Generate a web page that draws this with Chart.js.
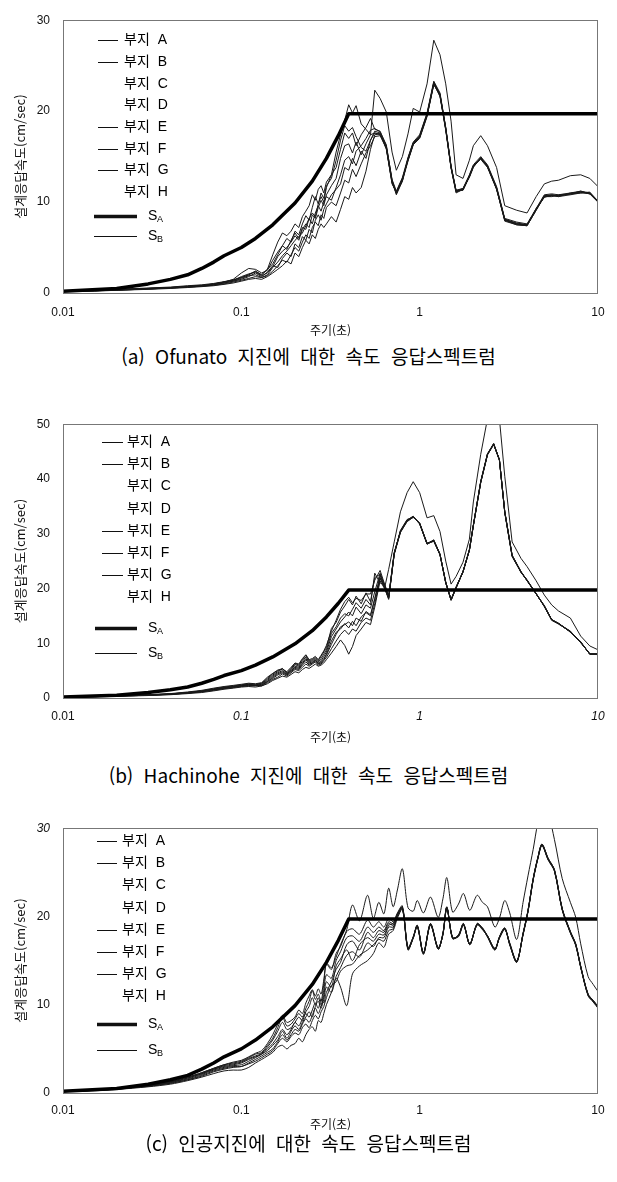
<!DOCTYPE html>
<html lang="ko">
<head>
<meta charset="utf-8">
<title>속도 응답스펙트럼</title>
<script src="https://cdn.jsdelivr.net/npm/chart.js@4.4.1/dist/chart.umd.min.js"></script>
<style>
  html, body { margin: 0; padding: 0; background: #fff; }
  body { width: 617px; height: 1182px; position: relative; overflow: hidden; }
  canvas { position: absolute; left: 0; }
  .caption {
    position: absolute; left: 0; width: 617px; height: 24px; line-height: 24px;
    text-align: center; color: #000; white-space: nowrap;
    font-family: "Noto Sans CJK KR", sans-serif; font-size: 19px; word-spacing: 5px;
  }
</style>
</head>
<body>
<canvas id="ofunato"></canvas>
<div class="caption" style="top: 344px;">(a) Ofunato 지진에 대한 속도 응답스펙트럼</div>
<canvas id="hachinohe"></canvas>
<div class="caption" style="top: 763px;">(b) Hachinohe 지진에 대한 속도 응답스펙트럼</div>
<canvas id="artificial"></canvas>
<div class="caption" style="top: 1131px;">(c) 인공지진에 대한 속도 응답스펙트럼</div>

<script>
// ---- data ----------------------------------------------------------------

const siteNames = ["부지 A", "부지 B", "부지 C", "부지 D", "부지 E", "부지 F", "부지 G", "부지 H"];
const designNames = [["S", "A"], ["S", "B"]];
const xTickValues = [0.01, 0.1, 1, 10];
const xTickLabels = ["0.01", "0.1", "1", "10"];
const xTitle = "주기(초)";
const yTitle = "설계응답속도(cm/sec)";

// design spectra (same for every record)
const designT = [0.01, 0.02, 0.03, 0.04, 0.05, 0.06, 0.07, 0.08, 0.1, 0.12, 0.15, 0.2, 0.25, 0.3, 0.35, 0.4, 10];
const designSA = [0.2, 0.5, 1.0, 1.5, 2.0, 2.7, 3.4, 4.1, 5.0, 6.0, 7.5, 9.9, 12.3, 14.8, 17.3, 19.7, 19.7];
const designSB = [0.2, 0.5, 1.0, 1.5, 2.0, 2.7, 3.4, 4.1, 5.0, 6.0, 7.5, 9.9, 12.3, 14.8, 17.3, 19.7, 19.7];

// (a) Ofunato
const ofuT = [
  0.01, 0.015, 0.02, 0.03, 0.04, 0.05, 0.06, 0.07, 0.08, 0.09,
  0.1, 0.11, 0.12, 0.13, 0.14, 0.15, 0.16, 0.17, 0.18, 0.19,
  0.2, 0.21, 0.22, 0.23, 0.24, 0.25, 0.26, 0.27, 0.28, 0.29,
  0.3, 0.32, 0.34, 0.36, 0.38, 0.4, 0.42, 0.44, 0.47, 0.5,
  0.53, 0.56, 0.6, 0.65, 0.7, 0.74, 0.8, 0.86, 0.92, 1.0,
  1.1, 1.2, 1.3, 1.4, 1.5, 1.6, 1.75, 1.9, 2.0, 2.2,
  2.4, 2.7, 3.0, 3.5, 4.0, 4.5, 5.0, 5.5, 6.0, 7.0,
  8.0, 9.0, 10
];
const ofuA = [
  0.2, 0.3, 0.35, 0.5, 0.6, 0.7, 0.8, 1.0, 1.2, 1.5,
  2.2, 2.7, 2.6, 2.2, 2.5, 3.6, 4.5, 5.2, 6.0, 5.6,
  6.8, 6.4, 7.6, 8.5, 8.0, 9.4, 10.6, 9.8, 11.0, 10.4,
  11.8, 12.6, 14.6, 16.8, 18.4, 17.8, 18.2, 17.2, 16.0, 15.6,
  16.8, 17.8, 17.6, 15.8, 12.2, 11.0, 12.4, 14.8, 16.5, 17.2,
  19.6, 23.2, 21.8, 18.1, 13.9, 11.3, 11.3, 12.8, 13.9, 14.8,
  14.0, 11.6, 8.1, 7.7, 7.5, 9.2, 10.6, 10.7, 10.7, 10.9,
  11.1, 10.9, 10.0
];
const ofuB = [
  0.25, 0.3, 0.4, 0.5, 0.6, 0.7, 0.8, 0.95, 1.2, 1.4,
  1.8, 2.1, 2.3, 1.9, 2.2, 2.9, 4.0, 4.6, 5.0, 5.6,
  6.3, 5.8, 7.0, 7.6, 7.2, 8.6, 8.2, 9.4, 10.2, 9.6,
  10.8, 11.8, 12.6, 14.8, 16.2, 16.4, 15.4, 16.6, 15.2, 16.4,
  17.4, 17.6, 17.4, 16.0, 12.0, 11.1, 12.6, 14.6, 16.3, 17.0,
  19.4, 23.0, 21.6, 17.9, 13.7, 11.1, 11.4, 12.9, 14.0, 14.7,
  13.8, 11.4, 8.0, 7.6, 7.4, 9.3, 10.5, 10.8, 10.6, 10.8,
  11.0, 11.0, 10.1
];
const ofuC = [
  0.2, 0.25, 0.3, 0.45, 0.55, 0.65, 0.75, 0.9, 1.1, 1.3,
  1.6, 1.9, 2.0, 1.7, 2.0, 2.8, 3.4, 4.1, 4.6, 5.2,
  5.8, 6.2, 6.6, 7.4, 8.2, 7.6, 8.8, 9.6, 9.0, 10.0,
  10.6, 10.2, 11.6, 13.0, 14.6, 15.0, 14.2, 15.6, 16.2, 17.0,
  17.9, 18.1, 17.7, 16.3, 12.4, 10.9, 12.5, 14.7, 16.4, 17.1,
  19.5, 23.1, 21.7, 18.0, 13.8, 11.2, 11.5, 12.7, 13.8, 14.9,
  13.9, 11.5, 7.9, 7.5, 7.4, 9.1, 10.6, 10.6, 10.8, 10.9,
  11.2, 10.9, 10.0
];
const ofuD = [
  0.2, 0.25, 0.3, 0.45, 0.55, 0.65, 0.75, 0.85, 1.0, 1.2,
  1.4, 1.6, 1.8, 1.7, 1.9, 2.4, 3.0, 3.6, 3.4, 4.2,
  5.0, 4.6, 5.6, 6.4, 6.0, 7.2, 7.8, 7.4, 8.6, 8.2,
  9.4, 10.0, 9.6, 11.0, 12.4, 12.1, 13.6, 12.8, 14.2, 15.4,
  16.2, 17.2, 17.3, 15.9, 12.1, 11.0, 12.3, 14.5, 16.3, 17.1,
  19.5, 22.9, 21.8, 18.2, 13.9, 11.2, 11.3, 12.8, 14.0, 14.8,
  13.9, 11.5, 8.1, 7.6, 7.5, 9.2, 10.7, 10.7, 10.6, 11.0,
  11.1, 11.0, 10.0
];
const ofuE = [
  0.15, 0.2, 0.3, 0.4, 0.5, 0.6, 0.7, 0.8, 0.95, 1.1,
  1.3, 1.5, 1.6, 1.5, 1.8, 2.2, 2.6, 3.0, 3.5, 3.2,
  4.4, 4.0, 5.0, 5.8, 5.4, 6.4, 6.0, 7.0, 7.6, 7.2,
  7.6, 8.4, 7.8, 9.2, 10.6, 10.3, 11.6, 11.0, 11.6, 13.4,
  15.8, 17.4, 17.5, 16.1, 12.3, 10.8, 12.3, 14.8, 16.5, 17.3,
  19.7, 23.1, 21.9, 18.1, 13.8, 11.0, 11.4, 12.9, 13.9, 14.9,
  14.0, 11.4, 8.0, 7.5, 7.4, 9.1, 10.7, 10.8, 10.7, 10.9,
  11.0, 11.1, 10.1
];
const ofuF = [
  0.2, 0.3, 0.35, 0.5, 0.6, 0.75, 0.85, 1.0, 1.2, 1.4,
  1.7, 2.0, 2.4, 2.0, 2.6, 3.2, 4.2, 5.2, 4.8, 5.8,
  6.6, 6.0, 7.2, 7.0, 8.2, 8.8, 8.4, 9.8, 10.6, 10.0,
  11.6, 13.0, 13.8, 15.8, 17.6, 17.0, 17.6, 16.2, 17.4, 18.2,
  19.2, 18.0, 17.8, 16.2, 12.5, 11.2, 12.7, 14.9, 16.6, 17.4,
  19.8, 23.3, 22.0, 18.2, 14.0, 11.3, 11.5, 13.0, 14.1, 15.0,
  14.1, 11.7, 8.2, 7.8, 7.6, 9.3, 10.8, 10.9, 10.8, 11.0,
  11.2, 11.0, 10.1
];
const ofuG = [
  0.2, 0.25, 0.35, 0.45, 0.55, 0.7, 0.8, 0.9, 1.1, 1.3,
  1.5, 1.8, 2.2, 1.8, 2.3, 3.0, 2.8, 3.8, 4.4, 4.0,
  5.4, 5.0, 6.2, 5.8, 7.0, 6.6, 8.0, 8.6, 8.0, 9.2,
  9.8, 10.8, 11.4, 12.0, 13.8, 13.5, 14.8, 14.0, 15.6, 14.8,
  16.8, 17.6, 17.5, 16.0, 12.3, 11.1, 12.5, 14.6, 16.4, 17.2,
  19.6, 23.0, 21.7, 18.0, 13.8, 11.2, 11.4, 12.8, 13.9, 14.8,
  13.9, 11.5, 8.1, 7.6, 7.5, 9.2, 10.6, 10.7, 10.7, 10.9,
  11.1, 10.9, 10.0
];
const ofuH = [
  0.25, 0.3, 0.4, 0.55, 0.65, 0.8, 0.9, 1.05, 1.25, 1.45,
  1.7, 2.0, 2.4, 2.0, 2.6, 4.2, 5.6, 6.6, 6.3, 6.8,
  7.6, 7.2, 8.4, 9.0, 9.6, 10.8, 10.2, 11.4, 11.8, 11.0,
  12.2, 13.0, 15.5, 17.4, 19.0, 20.7, 19.8, 20.6, 18.6, 18.0,
  17.4, 22.3, 21.4, 19.9, 15.5, 13.5, 15.0, 17.5, 20.3, 19.9,
  23.0, 27.8, 26.2, 23.0, 18.9, 13.0, 12.6, 14.6, 16.2, 17.3,
  16.2, 13.8, 9.6, 9.1, 8.8, 10.6, 12.0, 12.3, 12.4, 12.9,
  13.0, 12.6, 11.7
];

// (b) Hachinohe
const hacT = [
  0.01, 0.015, 0.02, 0.03, 0.04, 0.05, 0.06, 0.07, 0.08, 0.09,
  0.1, 0.11, 0.12, 0.13, 0.14, 0.15, 0.16, 0.17, 0.18, 0.19,
  0.2, 0.21, 0.22, 0.23, 0.24, 0.25, 0.26, 0.27, 0.28, 0.29,
  0.3, 0.32, 0.34, 0.36, 0.38, 0.4, 0.42, 0.44, 0.47, 0.5,
  0.53, 0.56, 0.6, 0.64, 0.67, 0.72, 0.78, 0.85, 0.92, 1.0,
  1.1, 1.2, 1.3, 1.4, 1.5, 1.6, 1.75, 1.9, 2.0, 2.2,
  2.4, 2.6, 2.8, 3.0, 3.3, 3.7, 4.0, 4.5, 5.0, 5.5,
  6.0, 7.0, 8.0, 9.0, 10
];
const hacA = [
  0.2, 0.3, 0.4, 0.55, 0.7, 1.0, 1.3, 1.7, 2.0, 2.2,
  2.4, 2.6, 2.5, 2.7, 3.6, 4.4, 5.0, 5.4, 4.6, 5.4,
  6.3, 6.0, 7.0, 7.8, 6.8, 7.0, 7.4, 6.8, 7.6, 8.4,
  9.2, 12.7, 13.8, 15.7, 16.8, 18.0, 17.0, 18.6, 17.2, 19.2,
  17.6, 22.0, 22.6, 19.8, 18.2, 26.2, 30.2, 32.3, 33.0, 31.9,
  28.2, 28.7, 26.2, 21.2, 17.9, 20.1, 23.1, 27.0, 31.5, 39.4,
  44.5, 46.4, 43.5, 34.0, 26.0, 23.0, 21.5, 19.0, 16.8, 14.3,
  13.6, 12.1, 10.2, 8.0, 8.0
];
const hacB = [
  0.25, 0.3, 0.4, 0.6, 0.75, 1.0, 1.2, 1.6, 1.9, 2.1,
  2.3, 2.4, 2.3, 2.5, 3.2, 4.0, 4.6, 5.0, 4.4, 5.0,
  5.8, 5.6, 6.4, 7.2, 6.4, 6.6, 7.0, 6.4, 6.8, 7.6,
  8.4, 11.2, 12.6, 13.9, 14.8, 15.7, 15.0, 16.6, 15.4, 17.0,
  16.4, 19.4, 22.8, 20.4, 18.4, 26.4, 30.4, 32.4, 33.1, 31.8,
  28.1, 28.8, 26.3, 21.0, 18.0, 20.2, 23.0, 27.1, 31.6, 39.5,
  44.6, 46.3, 43.4, 33.8, 25.9, 23.1, 21.4, 19.1, 16.7, 14.2,
  13.5, 12.2, 10.1, 8.1, 7.9
];
const hacC = [
  0.2, 0.25, 0.35, 0.5, 0.7, 0.9, 1.2, 1.5, 1.8, 2.0,
  2.2, 2.3, 2.2, 2.4, 3.0, 3.6, 4.2, 4.6, 4.2, 4.8,
  5.4, 5.2, 6.0, 6.6, 6.0, 6.4, 6.8, 6.2, 6.4, 7.0,
  7.8, 9.8, 11.6, 13.0, 13.4, 13.9, 13.2, 14.6, 14.0, 15.8,
  15.2, 18.2, 22.4, 20.2, 18.4, 26.5, 30.5, 32.5, 33.2, 31.9,
  28.3, 28.7, 26.1, 21.1, 17.8, 20.1, 23.1, 26.9, 31.4, 39.3,
  44.4, 46.3, 43.6, 33.9, 25.8, 23.0, 21.6, 19.0, 16.9, 14.3,
  13.7, 12.0, 10.3, 8.0, 8.1
];
const hacD = [
  0.2, 0.25, 0.35, 0.5, 0.65, 0.9, 1.1, 1.4, 1.7, 1.9,
  2.1, 2.2, 2.3, 2.2, 2.8, 3.4, 3.8, 4.4, 4.0, 4.6,
  5.2, 5.0, 5.6, 6.2, 5.8, 6.2, 6.6, 6.0, 6.2, 6.8,
  7.4, 9.0, 10.4, 11.6, 12.4, 11.6, 12.6, 12.2, 13.8, 14.6,
  14.2, 17.2, 21.8, 20.0, 18.2, 26.3, 30.6, 32.6, 33.0, 32.0,
  28.1, 28.9, 26.2, 21.0, 18.0, 20.3, 23.0, 27.0, 31.6, 39.6,
  44.6, 46.5, 43.4, 34.1, 26.1, 23.1, 21.4, 19.0, 16.8, 14.2,
  13.6, 12.1, 10.2, 8.0, 8.0
];
const hacE = [
  0.15, 0.2, 0.3, 0.45, 0.6, 0.8, 1.0, 1.3, 1.6, 1.8,
  2.0, 2.1, 2.0, 2.2, 2.6, 3.2, 3.6, 4.0, 3.8, 4.3,
  4.8, 4.6, 5.2, 5.6, 5.4, 5.8, 6.2, 5.8, 6.0, 6.4,
  7.0, 8.2, 9.4, 10.6, 9.6, 8.0, 9.4, 11.4, 12.6, 13.8,
  13.4, 16.6, 21.4, 19.8, 18.0, 26.4, 30.4, 32.4, 33.1, 31.8,
  28.2, 28.8, 26.3, 21.1, 17.9, 20.2, 23.1, 27.0, 31.5, 39.4,
  44.5, 46.4, 43.5, 34.0, 26.0, 23.0, 21.5, 19.0, 16.8, 14.3,
  13.6, 12.1, 10.2, 8.0, 8.0
];
const hacF = [
  0.2, 0.3, 0.4, 0.55, 0.75, 1.0, 1.3, 1.6, 1.9, 2.1,
  2.3, 2.5, 2.4, 2.6, 3.4, 4.2, 4.8, 5.3, 4.5, 5.2,
  6.1, 5.8, 6.7, 7.5, 6.6, 6.8, 7.2, 6.6, 7.2, 8.0,
  8.8, 11.8, 13.0, 14.6, 15.4, 15.0, 16.2, 17.4, 16.4, 18.0,
  17.0, 22.8, 21.0, 20.6, 18.6, 26.6, 30.3, 32.2, 33.0, 31.9,
  28.2, 28.6, 26.2, 21.2, 17.9, 20.0, 23.1, 27.1, 31.5, 39.4,
  44.4, 46.3, 43.5, 34.0, 26.0, 22.9, 21.5, 19.1, 16.7, 14.3,
  13.6, 12.2, 10.1, 8.1, 8.0
];
const hacG = [
  0.2, 0.25, 0.35, 0.5, 0.7, 0.9, 1.2, 1.5, 1.8, 2.0,
  2.2, 2.4, 2.3, 2.3, 3.0, 3.8, 4.4, 4.8, 4.3, 5.0,
  5.6, 5.4, 6.2, 7.0, 6.2, 6.4, 6.9, 6.3, 6.6, 7.2,
  8.0, 10.4, 12.0, 12.6, 13.6, 12.8, 14.0, 13.2, 14.8, 15.6,
  15.0, 18.0, 22.0, 20.0, 18.3, 26.4, 30.4, 32.4, 33.1, 31.8,
  28.1, 28.7, 26.2, 21.1, 17.9, 20.2, 23.0, 27.0, 31.5, 39.5,
  44.5, 46.4, 43.5, 34.0, 26.0, 23.0, 21.5, 19.0, 16.8, 14.3,
  13.6, 12.1, 10.2, 8.0, 8.0
];
const hacH = [
  0.25, 0.3, 0.45, 0.6, 0.8, 1.1, 1.4, 1.8, 2.1, 2.3,
  2.5, 2.7, 2.6, 2.8, 3.8, 4.5, 5.1, 5.3, 4.8, 5.6,
  6.4, 6.2, 7.2, 7.9, 7.0, 7.2, 7.6, 7.0, 7.8, 8.6,
  9.6, 12.2, 14.2, 16.2, 17.6, 18.4, 17.4, 18.2, 17.8, 19.0,
  19.0, 21.5, 23.3, 20.5, 23.5, 28.5, 34.0, 37.5, 39.5, 37.5,
  32.9, 33.3, 30.4, 25.0, 20.8, 22.2, 24.8, 29.0, 35.8, 44.5,
  51.0, 53.5, 51.0, 40.5, 28.5, 25.5, 24.0, 21.4, 18.8, 17.0,
  15.9, 14.6, 11.3, 9.5, 8.8
];

// (c) artificial record
const artT = [
  0.01, 0.015, 0.02, 0.03, 0.04, 0.05, 0.06, 0.07, 0.08, 0.09,
  0.1, 0.11, 0.12, 0.13, 0.14, 0.15, 0.16, 0.17, 0.18, 0.19,
  0.2, 0.21, 0.22, 0.23, 0.24, 0.25, 0.26, 0.27, 0.28, 0.29,
  0.3, 0.32, 0.34, 0.36, 0.39, 0.42, 0.46, 0.51, 0.55, 0.59,
  0.63, 0.67, 0.71, 0.75, 0.8, 0.86, 0.92, 0.97, 1.05, 1.15,
  1.27, 1.35, 1.42, 1.53, 1.65, 1.76, 1.91, 2.1, 2.25, 2.4,
  2.64, 2.8, 3.0, 3.2, 3.5, 3.8, 4.05, 4.33, 4.6, 4.85,
  5.25, 5.7, 6.3, 7.0, 7.5, 8.0, 8.8, 9.4, 10
];
const artA = [
  0.2, 0.35, 0.5, 0.9, 1.3, 1.8, 2.3, 2.8, 3.2, 3.4,
  3.6, 4.0, 4.4, 4.6, 5.4, 6.2, 7.4, 8.6, 7.6, 7.8,
  8.4, 9.0, 8.6, 9.6, 10.4, 11.6, 10.6, 11.2, 10.4, 12.4,
  14.6, 14.0, 15.8, 16.6, 18.3, 18.6, 18.0, 19.6, 18.8, 19.4,
  18.8, 19.8, 19.4, 20.4, 21.2, 16.5, 17.7, 19.0, 15.9, 19.2,
  16.3, 18.1, 21.1, 17.5, 17.9, 19.2, 16.8, 19.2, 18.7, 17.7,
  16.2, 17.7, 18.7, 16.8, 14.8, 18.1, 20.7, 24.3, 26.7, 28.2,
  26.6, 25.3, 20.9, 18.3, 16.9, 14.4, 11.2, 10.5, 9.8
];
const artB = [
  0.2, 0.3, 0.5, 0.8, 1.2, 1.7, 2.2, 2.7, 3.0, 3.2,
  3.4, 3.8, 4.1, 4.4, 5.0, 5.6, 6.4, 7.2, 6.6, 7.2,
  8.0, 7.6, 8.4, 9.0, 8.6, 9.4, 10.2, 9.6, 10.6, 10.2,
  11.4, 12.6, 14.0, 14.8, 16.8, 17.2, 16.2, 18.2, 17.6, 18.4,
  18.2, 19.2, 19.0, 20.2, 21.0, 16.3, 17.5, 18.9, 15.8, 19.0,
  16.4, 18.0, 21.0, 17.6, 17.8, 19.1, 16.9, 19.1, 18.6, 17.8,
  16.3, 17.6, 18.6, 16.9, 14.9, 18.0, 20.6, 24.2, 26.6, 28.1,
  26.5, 25.2, 20.8, 18.2, 16.8, 14.3, 11.1, 10.4, 9.7
];
const artC = [
  0.15, 0.3, 0.45, 0.8, 1.1, 1.5, 2.0, 2.5, 2.8, 3.0,
  3.0, 3.4, 3.8, 4.2, 4.6, 5.0, 5.8, 6.6, 6.0, 6.6,
  7.2, 7.0, 7.8, 8.4, 8.0, 8.8, 9.6, 9.0, 9.8, 10.6,
  12.0, 11.4, 13.2, 14.2, 15.6, 16.0, 15.4, 17.0, 16.6, 17.6,
  17.6, 18.8, 18.8, 20.0, 20.9, 16.2, 17.6, 18.8, 15.7, 19.1,
  16.5, 17.9, 20.9, 17.6, 17.7, 19.0, 16.9, 19.0, 18.5, 17.8,
  16.4, 17.5, 18.5, 17.0, 15.0, 17.9, 20.5, 24.1, 26.5, 28.0,
  26.4, 25.1, 20.7, 18.1, 16.7, 14.2, 11.0, 10.3, 9.6
];
const artD = [
  0.15, 0.25, 0.4, 0.7, 1.0, 1.4, 1.8, 2.2, 2.5, 2.6,
  2.6, 2.9, 3.4, 3.8, 4.2, 4.6, 5.2, 5.4, 5.0, 5.4,
  5.6, 6.2, 5.8, 6.6, 7.2, 7.5, 7.0, 8.2, 8.0, 9.0,
  10.0, 11.4, 13.0, 12.0, 9.9, 13.5, 14.4, 15.0, 15.8, 17.0,
  16.5, 18.0, 18.4, 19.8, 20.8, 16.4, 17.6, 18.9, 15.9, 19.0,
  16.3, 18.0, 21.0, 17.5, 17.8, 19.1, 16.8, 19.2, 18.6, 17.7,
  16.2, 17.6, 18.6, 16.8, 14.9, 18.0, 20.7, 24.2, 26.6, 28.1,
  26.5, 25.2, 20.8, 18.2, 16.8, 14.3, 11.1, 10.4, 9.7
];
const artE = [
  0.2, 0.3, 0.45, 0.8, 1.2, 1.6, 2.1, 2.6, 2.9, 3.1,
  3.2, 3.6, 4.0, 4.4, 4.8, 5.4, 6.0, 7.0, 6.2, 7.0,
  7.6, 7.2, 8.0, 8.6, 9.2, 8.6, 9.8, 10.4, 9.6, 11.0,
  12.6, 12.0, 14.4, 15.2, 16.2, 15.0, 16.8, 17.6, 17.2, 18.0,
  17.9, 19.0, 19.2, 20.2, 21.1, 16.3, 17.6, 19.0, 15.8, 19.2,
  16.4, 18.1, 21.0, 17.6, 17.8, 19.2, 16.9, 19.1, 18.7, 17.8,
  16.3, 17.7, 18.7, 16.9, 14.8, 18.1, 20.6, 24.3, 26.7, 28.2,
  26.6, 25.3, 20.9, 18.3, 16.9, 14.3, 11.2, 10.5, 9.8
];
const artF = [
  0.2, 0.3, 0.5, 0.85, 1.25, 1.7, 2.2, 2.7, 3.1, 3.3,
  3.5, 3.9, 4.2, 4.5, 5.2, 6.0, 7.0, 8.0, 7.2, 7.4,
  8.0, 8.6, 8.2, 9.2, 9.8, 10.8, 10.0, 10.8, 10.0, 11.6,
  13.4, 13.0, 15.0, 16.0, 17.6, 17.8, 17.2, 18.8, 18.2, 18.8,
  18.4, 19.4, 19.2, 20.3, 21.0, 16.4, 17.7, 18.9, 15.8, 19.1,
  16.3, 18.0, 21.0, 17.5, 17.9, 19.1, 16.8, 19.1, 18.6, 17.7,
  16.3, 17.6, 18.6, 16.8, 14.9, 18.0, 20.6, 24.2, 26.6, 28.1,
  26.5, 25.2, 20.8, 18.2, 16.8, 14.3, 11.1, 10.4, 9.7
];
const artG = [
  0.15, 0.3, 0.45, 0.75, 1.1, 1.5, 1.9, 2.4, 2.7, 2.9,
  3.0, 3.3, 3.6, 4.0, 4.4, 4.8, 5.6, 6.2, 5.8, 6.4,
  6.8, 6.6, 7.4, 7.8, 7.4, 8.2, 8.8, 8.4, 9.2, 9.8,
  10.8, 12.2, 12.6, 13.8, 14.4, 14.6, 15.6, 16.2, 16.8, 17.4,
  17.2, 18.4, 18.6, 20.0, 20.9, 16.4, 17.6, 18.9, 15.9, 19.1,
  16.4, 18.0, 20.9, 17.6, 17.8, 19.1, 16.9, 19.1, 18.6, 17.8,
  16.3, 17.6, 18.6, 16.9, 14.9, 18.0, 20.6, 24.2, 26.6, 28.1,
  26.5, 25.2, 20.8, 18.2, 16.8, 14.3, 11.1, 10.4, 9.7
];
const artH = [
  0.2, 0.35, 0.5, 0.9, 1.3, 1.8, 2.3, 2.8, 3.2, 3.5,
  3.7, 4.1, 4.5, 4.8, 5.6, 6.6, 7.8, 8.8, 8.0, 8.2,
  8.6, 9.4, 9.0, 10.2, 11.0, 11.7, 11.0, 11.8, 11.2, 12.8,
  14.7, 14.2, 15.4, 16.8, 18.5, 21.3, 19.5, 22.4, 19.8, 21.6,
  20.3, 23.2, 21.1, 23.0, 25.4, 21.0, 20.6, 21.8, 20.4, 22.2,
  19.9, 22.0, 24.4, 20.5, 21.4, 22.6, 20.7, 22.4, 21.6, 21.1,
  18.8, 19.8, 21.8, 20.4, 17.4, 21.6, 24.6, 27.6, 30.6, 31.8,
  31.5, 28.7, 24.3, 21.6, 19.9, 16.9, 13.2, 12.3, 11.5
];

// ---- drawing -------------------------------------------------------------

Chart.defaults.font.family = "'Liberation Sans', Arial, sans-serif";
Chart.defaults.color = "#111";

// box around the plot area
const plotFrame = {
  id: "plotFrame",
  afterDraw(chart) {
    const { ctx, chartArea: a } = chart;
    ctx.save();
    ctx.strokeStyle = "#777";
    ctx.lineWidth = 1;
    ctx.strokeRect(Math.round(a.left) + 0.5, Math.round(a.top) + 0.5,
      Math.round(a.right - a.left) - 1, Math.round(a.bottom - a.top));
    ctx.restore();
  },
};

// key drawn inside the upper-left corner of the plot
const siteKey = {
  id: "siteKey",
  afterDraw(chart, args, opts) {
    const { ctx } = chart;
    const top = chart.chartArea.top;
    ctx.save();
    ctx.strokeStyle = "#111";
    ctx.fillStyle = "#000";
    ctx.textBaseline = "middle";
    ctx.font = "14px 'Liberation Sans', 'Noto Sans CJK KR', sans-serif";
    if ("wordSpacing" in ctx) ctx.wordSpacing = "4px";
    siteNames.forEach((name, i) => {
      const y = Math.round(top + opts.rowTop + i * opts.rowGap) + 0.5;
      if (opts.sample[i]) {
        ctx.lineWidth = 1;
        ctx.beginPath();
        ctx.moveTo(opts.lineX[0], y);
        ctx.lineTo(opts.lineX[1], y);
        ctx.stroke();
      }
      ctx.fillText(name, opts.textX, y);
    });
    designNames.forEach((parts, i) => {
      const y = Math.round(top + opts.designRows[i]) + 0.5;
      ctx.lineWidth = i === 0 ? 3.5 : 1;
      ctx.beginPath();
      ctx.moveTo(opts.designLineX[0], y);
      ctx.lineTo(opts.designLineX[1], y);
      ctx.stroke();
      ctx.font = "14px 'Liberation Sans', sans-serif";
      ctx.fillText(parts[0], 148, y);
      ctx.font = "9px 'Liberation Sans', sans-serif";
      ctx.fillText(parts[1], 157, y + 3);
    });
    ctx.restore();
  },
};

function drawSpectrum(canvasId, frame, periods, sites, yMax, key) {
  const canvas = document.getElementById(canvasId);
  canvas.width = 617;
  canvas.height = frame.titleY + 8 - frame.canvasTop;
  canvas.style.top = frame.canvasTop + "px";

  const datasets = [
    {
      label: "SA",
      data: designT.map((t, i) => ({ x: t, y: designSA[i] })),
      borderColor: "#000",
      borderWidth: 3.5,
    },
    {
      label: "SB",
      data: designT.map((t, i) => ({ x: t, y: designSB[i] })),
      borderColor: "#000",
      borderWidth: 1,
    },
  ];
  sites.forEach((vals, i) => {
    datasets.push({
      label: siteNames[i],
      data: periods.map((t, j) => ({ x: t, y: vals[j] })),
      borderColor: "#1a1a1a",
      borderWidth: 1,
      tension: frame.tension,
    });
  });

  const tickFont = (italics) => (c) => ({
    size: 12,
    style: c.tick && italics.includes(c.tick.value) ? "italic" : "normal",
  });

  return new Chart(canvas, {
    type: "line",
    data: { datasets },
    plugins: [plotFrame, siteKey],
    options: {
      responsive: false,
      animation: false,
      devicePixelRatio: 1,
      elements: { point: { radius: 0 }, line: { borderJoinStyle: "round", fill: false } },
      layout: { padding: { top: frame.plotTop - frame.canvasTop, right: 19, left: 0, bottom: 0 } },
      plugins: {
        legend: { display: false },
        tooltip: { enabled: false },
        siteKey: key,
      },
      scales: {
        x: {
          type: "logarithmic",
          min: 0.01,
          max: 10,
          grid: { display: false, drawTicks: false },
          border: { display: false },
          afterBuildTicks: (scale) => {
            scale.ticks = xTickValues.map((v) => ({ value: v }));
          },
          afterFit: (scale) => {
            scale.height = frame.titleY + 8 - frame.plotBottom;
          },
          ticks: {
            padding: frame.tickPad,
            maxRotation: 0,
            autoSkip: false,
            font: tickFont(frame.italicX),
            callback: (value, index) => xTickLabels[index],
          },
          title: {
            display: true,
            text: xTitle,
            font: { family: "'Noto Sans CJK KR', sans-serif", size: 12 },
            padding: { top: 0, bottom: 1 },
          },
        },
        y: {
          min: 0,
          max: yMax,
          grid: { display: false, drawTicks: false },
          border: { display: false },
          afterFit: (scale) => {
            scale.width = 63;
          },
          ticks: { stepSize: 10, padding: 13, font: tickFont(frame.italicY) },
          title: {
            display: true,
            text: yTitle,
            font: { family: "'Noto Sans CJK KR', sans-serif", size: 13 },
            padding: { top: 12, bottom: 0 },
          },
        },
      },
    },
  });
}

drawSpectrum("ofunato",
  { canvasTop: 0, plotTop: 13, plotBottom: 293, titleY: 331, tickPad: 12, tension: 0,
    italicX: [], italicY: [] },
  ofuT, [ofuA, ofuB, ofuC, ofuD, ofuE, ofuF, ofuG, ofuH], 30,
  { rowTop: 20, rowGap: 21.7, lineX: [98, 118], textX: 124,
    sample: [1, 1, 0, 0, 1, 1, 1, 0], designRows: [196, 216], designLineX: [94, 137] });

drawSpectrum("hachinohe",
  { canvasTop: 404, plotTop: 417, plotBottom: 698, titleY: 738, tickPad: 11, tension: 0,
    italicX: [0.1, 1, 10], italicY: [] },
  hacT, [hacA, hacB, hacC, hacD, hacE, hacF, hacG, hacH], 50,
  { rowTop: 18, rowGap: 22.1, lineX: [102, 123], textX: 127,
    sample: [1, 1, 0, 0, 1, 1, 1, 0], designRows: [204, 229], designLineX: [95, 137] });

drawSpectrum("artificial",
  { canvasTop: 808, plotTop: 821, plotBottom: 1093, titleY: 1125, tickPad: 10, tension: 0.3,
    italicX: [], italicY: [30] },
  artT, [artA, artB, artC, artD, artE, artF, artG, artH], 30,
  { rowTop: 13, rowGap: 22.1, lineX: [97, 117], textX: 122,
    sample: [1, 1, 0, 0, 1, 1, 1, 0], designRows: [196, 222], designLineX: [97, 137] });
</script>
</body>
</html>
